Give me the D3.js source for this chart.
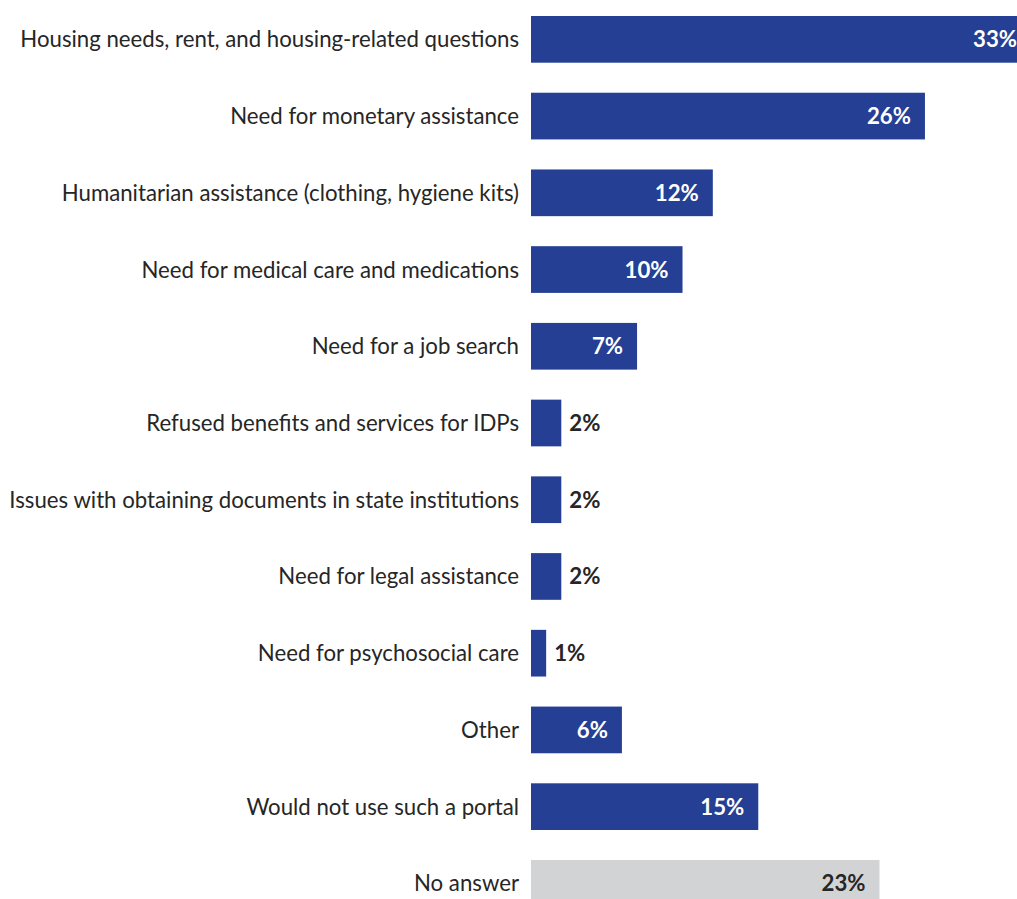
<!DOCTYPE html>
<html>
<head>
<meta charset="utf-8">
<script src="https://cdn.jsdelivr.net/npm/d3@7"></script>
<style>
  html, body { margin: 0; padding: 0; background: #fff; overflow: hidden; }
  svg { display: block; }
  text { font-family: Lato, "Open Sans", sans-serif; }
</style>
</head>
<body>
<script>
// Topics respondents would use a portal for (share of respondents)
const categories = [
  "Housing needs, rent, and housing-related questions",
  "Need for monetary assistance",
  "Humanitarian assistance (clothing, hygiene kits)",
  "Need for medical care and medications",
  "Need for a job search",
  "Refused benefits and services for IDPs",
  "Issues with obtaining documents in state institutions",
  "Need for legal assistance",
  "Need for psychosocial care",
  "Other",
  "Would not use such a portal",
  "No answer"
];
const values = [33, 26, 12, 10, 7, 2, 2, 2, 1, 6, 15, 23];
const noAnswerCategory = "No answer";

const W = 1017, H = 899;
const data = categories.map((c, i) => ({ cat: c, v: values[i] }));

const svg = d3.select("body").append("svg")
  .attr("width", W).attr("height", H);

const x = d3.scaleLinear().domain([0, 33]).range([531, 1031]);

// band layout: step ~76.7px, bar height ~46.7px, first bar top at 16
const step = 76.73, barH = 46.7;
const pad = 1 - barH / step;
const y0 = 16 - step * pad / 2;
const y = d3.scaleBand().domain(categories)
  .paddingInner(pad).paddingOuter(pad / 2)
  .range([y0, y0 + step * categories.length]);

const blue = "#243f94", grey = "#d2d3d5";

// category labels
const baseSize = 20;
const labels = svg.append("g").selectAll("text")
  .data(data).join("text")
  .attr("x", 519)
  .attr("text-anchor", "end")
  .attr("fill", "#262626")
  .style("font-size", baseSize + "px")
  .text(d => d.cat);

// size the two longest labels to the width they take up (≈500px and ≈509px)
const nodes = labels.nodes();
const wHousing = nodes[0].getComputedTextLength();
const wIssues = nodes[6].getComputedTextLength();
const size = baseSize * (500 + 509) / (wHousing + wIssues);
const capShift = size * 0.36;
labels.style("font-size", size + "px")
  .attr("y", d => y(d.cat) + y.bandwidth() / 2 + capShift);

// bars
svg.append("g").selectAll("rect")
  .data(data).join("rect")
  .attr("x", x(0))
  .attr("y", d => y(d.cat))
  .attr("width", d => x(d.v) - x(0))
  .attr("height", y.bandwidth())
  .attr("fill", d => d.cat === noAnswerCategory ? grey : blue);

// value labels: inside the bar end for larger bars, just outside for small ones
svg.append("g").selectAll("text")
  .data(data).join("text")
  .attr("x", d => d.v >= 5 ? x(d.v) - 14 : x(d.v) + 8)
  .attr("y", d => y(d.cat) + y.bandwidth() / 2 + capShift)
  .attr("text-anchor", d => d.v >= 5 ? "end" : "start")
  .attr("fill", d => d.v >= 5 && d.cat !== noAnswerCategory ? "#fff" : "#262626")
  .style("font-size", size + "px")
  .style("font-weight", "bold")
  .text(d => d.v + "%");
</script>
</body>
</html>
